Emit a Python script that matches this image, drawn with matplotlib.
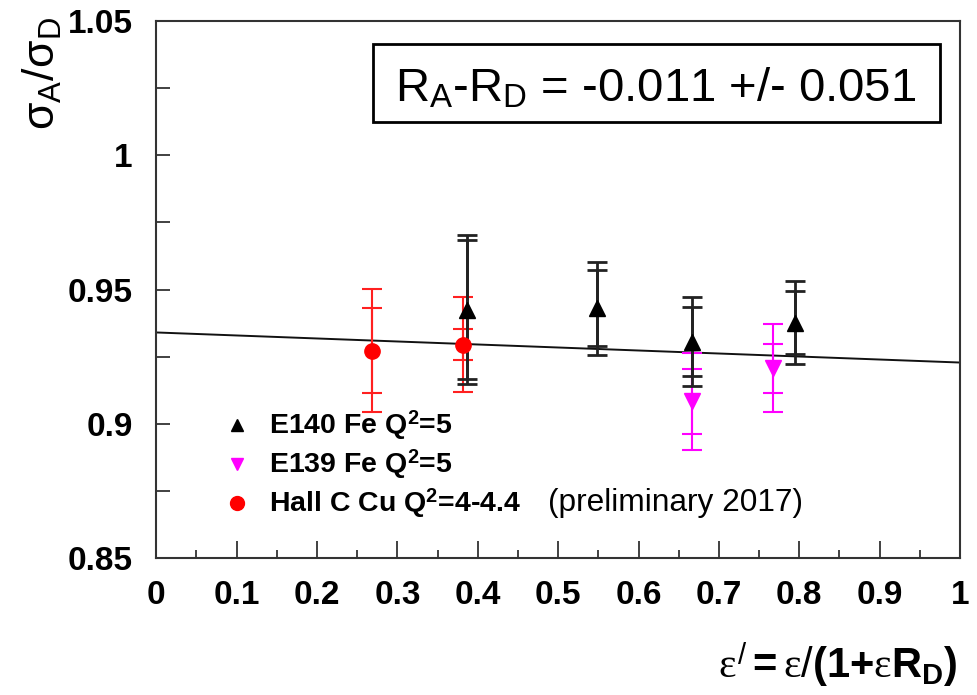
import matplotlib
matplotlib.use("Agg")
import matplotlib.pyplot as plt
import numpy as np
from matplotlib.patches import Rectangle
from matplotlib.lines import Line2D

plt.rcParams['font.family'] = ['Liberation Sans', 'DejaVu Sans']
plt.rcParams['mathtext.fontset'] = 'custom'
plt.rcParams['mathtext.rm'] = 'Liberation Sans'
plt.rcParams['mathtext.bf'] = 'Liberation Sans:bold'
plt.rcParams['mathtext.it'] = 'Liberation Serif'
plt.rcParams['mathtext.sf'] = 'Liberation Sans'

# ---- data ----
e140_x = [0.386, 0.548, 0.666, 0.795]
e140_y = [0.9425, 0.943, 0.9305, 0.9377]
e140_stat = [0.0258, 0.0141, 0.0128, 0.0118]
e140_tot = [0.0278, 0.0174, 0.0166, 0.0155]

e139_x = [0.666, 0.767]
e139_y = [0.9083, 0.9206]
e139_stat = [0.012, 0.009]
e139_tot = [0.018, 0.0164]

hallc_x = [0.268, 0.382]
hallc_y = [0.9272, 0.9295]
hallc_stat = [0.0158, 0.0059]
hallc_tot = [0.023, 0.0176]

fit_intercept = 0.934
fit_slope = -0.0112
fit_x = [0.0, 1.0]

x_ticks = [0, 0.1, 0.2, 0.3, 0.4, 0.5, 0.6, 0.7, 0.8, 0.9, 1]
x_ticklabels = ['0', '0.1', '0.2', '0.3', '0.4', '0.5', '0.6', '0.7', '0.8', '0.9', '1']
y_ticks = [0.85, 0.9, 0.95, 1.0, 1.05]
y_ticklabels = ['0.85', '0.9', '0.95', '1', '1.05']

legend_labels = ['E140 Fe Q$^{\\mathbf{2}}$=5', 'E139 Fe Q$^{\\mathbf{2}}$=5',
                 'Hall C Cu Q$^{\\mathbf{2}}$=4-4.4']
note_text = '(preliminary 2017)'
box_text = 'R$_{\\mathrm{A}}$-R$_{\\mathrm{D}}$ = -0.011 +/- 0.051'

W, H = 978, 695
fig = plt.figure(figsize=(W / 100, H / 100), dpi=100)
ax = fig.add_axes([156.3 / W, 1 - 558 / H, (960 - 156.3) / W, (558 - 21) / H])
ax.set_xlim(0, 1)
ax.set_ylim(0.85, 1.05)

# fit line
fx = np.array(fit_x)
ax.plot(fx, fit_intercept + fit_slope * fx, color='#111111', lw=1.4, zorder=2)

def draw(xs, ys, stat, tot, color, lw):
    ax.errorbar(xs, ys, yerr=tot, fmt='none', ecolor=color, elinewidth=lw,
                capsize=7, capthick=lw, zorder=3)
    ax.errorbar(xs, ys, yerr=stat, fmt='none', ecolor=color, elinewidth=lw,
                capsize=7, capthick=lw, zorder=3)

draw(hallc_x, hallc_y, hallc_stat, hallc_tot, '#ff2020', 1.5)
draw(e139_x, e139_y, e139_stat, e139_tot, '#ff00ff', 1.5)
draw(e140_x, e140_y, e140_stat, e140_tot, '#222222', 2.0)

ax.plot(e140_x, e140_y, linestyle='none', marker='^', ms=11, color='black', zorder=5)
ax.plot(e139_x, e139_y, linestyle='none', marker='v', ms=11, color='#ff00ff', zorder=5)
ax.plot(hallc_x, hallc_y, linestyle='none', marker='o', ms=11, color='#ff0000', zorder=6)

# ticks
ax.set_xticks(x_ticks)
ax.set_xticklabels(x_ticklabels, fontsize=24, fontweight='bold')
ax.set_xticks(np.arange(0.05, 1.0, 0.1), minor=True)
ax.set_yticks(y_ticks)
ax.set_yticklabels(y_ticklabels, fontsize=24, fontweight='bold')
ax.set_yticks([0.875, 0.925, 0.975, 1.025], minor=True)
ax.tick_params(axis='x', which='major', direction='in', length=12, width=1.3, pad=16,
               top=False, color='#333333')
ax.tick_params(axis='x', which='minor', direction='in', length=6, width=1.3, top=False,
               color='#333333')
ax.tick_params(axis='y', which='major', direction='in', length=10, width=1.3, pad=17,
               right=False, color='#333333')
ax.tick_params(axis='y', which='minor', direction='in', length=10, width=1.3,
               right=False, color='#333333')
for s in ax.spines.values():
    s.set_linewidth(1.5)
    s.set_color('#333333')

# legend (manual)
leg_markers = [('^', 'black', 9), ('v', '#ff00ff', 9), ('o', '#ff0000', 10)]
leg_y = [425, 464, 503]
for (m, c, ms), py, lab in zip(leg_markers, leg_y, legend_labels):
    fig.add_artist(Line2D([236.7 / W], [1 - py / H], marker=m, color=c, ms=ms,
                          linestyle='none', transform=fig.transFigure))
    fig.text(269 / W, 1 - py / H, lab, fontsize=20.5, fontweight='bold',
             ha='left', va='center')
fig.text(548 / W, 1 - 503 / H, note_text, fontsize=22.8, ha='left', va='center')

# annotation box
fig.add_artist(Rectangle((373.3 / W, 1 - 121.7 / H), (940 - 373.3) / W, (121.7 - 44) / H,
                         transform=fig.transFigure, fill=False, edgecolor='black', lw=2))
fig.text(395 / W, 1 - 101.7 / H, box_text, fontsize=34, ha='left', va='baseline')

# axis labels
fig.text(958 / W, 1 - 678 / H,
         r'$\varepsilon^{/}{\mathbf{=}}\varepsilon/\mathbf{(1{+}}\varepsilon\mathbf{R_{D})}$',
         fontsize=30, ha='right', va='baseline')
fig.text(42 / W, 1 - 17 / H, r'$\mathrm{\sigma_{A}/\sigma_{D}}$', fontsize=32,
         rotation=90, ha='center', va='top')

fig.savefig('out.png', dpi=100)
